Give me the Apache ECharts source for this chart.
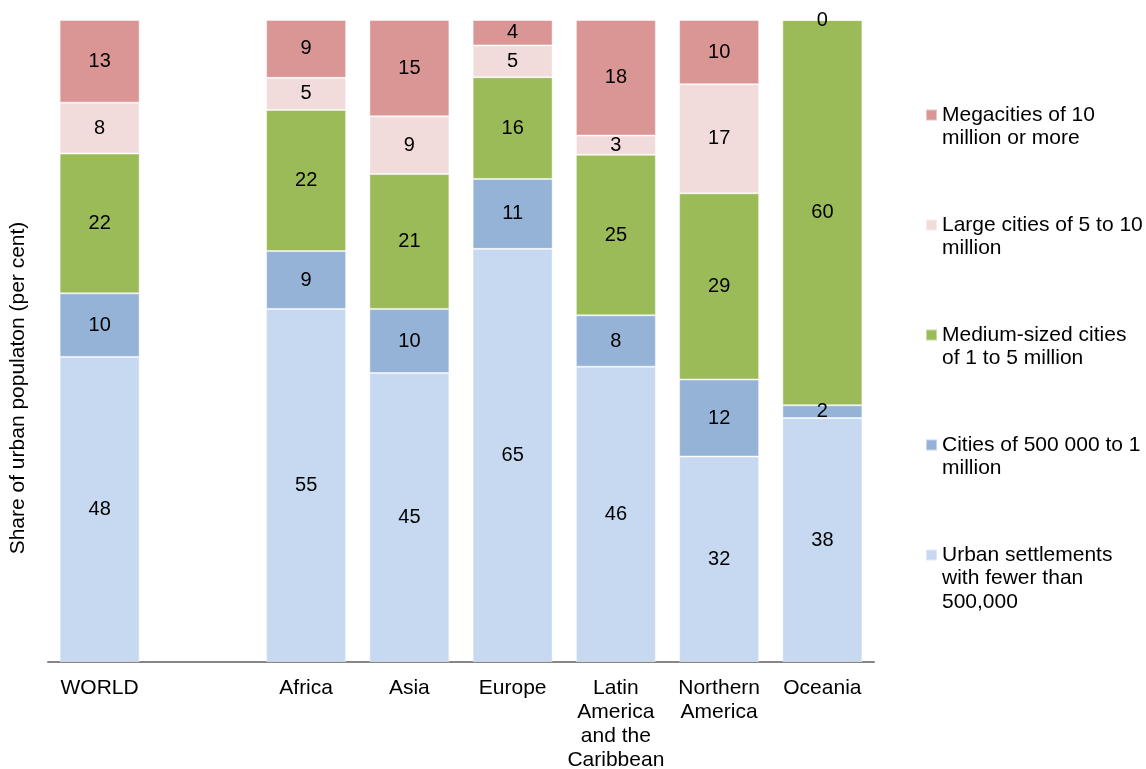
<!DOCTYPE html>
<html>
<head>
<meta charset="utf-8">
<script src="https://cdn.jsdelivr.net/npm/echarts@6/dist/echarts.min.js"></script>
<style>
  html, body { margin: 0; padding: 0; background: #fff; }
  #chart { width: 1146px; height: 769px; }
</style>
</head>
<body>
<div id="chart"></div>
<script>
// Regions (an empty slot separates WORLD from the regions)
const categories = ['WORLD', '', 'Africa', 'Asia', 'Europe',
  'Latin\nAmerica\nand the\nCaribbean', 'Northern\nAmerica', 'Oceania'];

// Share of urban population by city size class (per cent, rounded)
const megacities = [13, '-', 9, 15, 4, 18, 10, 0];
const largeCities = [8, '-', 5, 9, 5, 3, 17, 0];
const mediumCities = [22, '-', 22, 21, 16, 25, 29, 60];
const citiesHalfMillion = [10, '-', 9, 10, 11, 8, 12, 2];
const smallSettlements = [48, '-', 55, 45, 65, 46, 32, 38];

const seriesNames = [
  'Urban settlements with fewer than 500,000',
  'Cities of 500 000 to 1 million',
  'Medium-sized cities of 1 to 5 million',
  'Large cities of 5 to 10 million',
  'Megacities of 10 million or more'
];
const legendLines = {
  'Megacities of 10 million or more': ['Megacities of 10', 'million or more'],
  'Large cities of 5 to 10 million': ['Large cities of 5 to 10', 'million'],
  'Medium-sized cities of 1 to 5 million': ['Medium-sized cities', 'of 1 to 5 million'],
  'Cities of 500 000 to 1 million': ['Cities of 500 000 to 1', 'million'],
  'Urban settlements with fewer than 500,000': ['Urban settlements', 'with fewer than', '500,000']
};
const colors = ['#C6D9F0', '#95B3D7', '#9BBB59', '#F2DCDB', '#D99694'];
const values = [smallSettlements, citiesHalfMillion, mediumCities, largeCities, megacities];

const FONT = "'Liberation Sans', Arial, sans-serif";

// 100% stacked: each column is scaled so its classes fill the full height
const totals = categories.map((c, i) =>
  values.reduce((s, arr) => s + (typeof arr[i] === 'number' ? arr[i] : 0), 0));

const series = values.map((arr, k) => ({
  name: seriesNames[k],
  type: 'bar',
  stack: 'share',
  barWidth: 80,
  itemStyle: { color: colors[k], borderColor: 'rgba(255,255,255,0.45)', borderWidth: 1 },
  label: {
    show: true,
    position: 'inside',
    color: '#000',
    fontFamily: FONT,
    fontSize: 20,
    formatter: p => String(arr[p.dataIndex])
  },
  data: arr.map((v, i) => {
    if (typeof v !== 'number') return '-';
    const item = { value: v / totals[i] * 100 };
    // only the top class keeps a label when its share is zero
    if (v === 0 && k !== values.length - 1) item.label = { show: false };
    return item;
  })
}));

// one legend block per class; blank lines above the text keep the
// swatch level with the first line of a wrapped entry
const LH = 23.5;
const legendFirstLine = [115, 225, 335, 445, 555];
const legendOrder = seriesNames.slice().reverse();
const legends = legendOrder.map((name, j) => {
  const n = legendLines[name].length;
  return {
    orient: 'vertical',
    left: 925,
    top: legendFirstLine[j] - (2 * n - 1) * LH / 2,
    padding: 0,
    itemWidth: 11,
    itemHeight: 11,
    icon: 'rect',
    selectedMode: false,
    data: [name],
    formatter: nm => '\n'.repeat(n - 1) + legendLines[nm].join('\n'),
    textStyle: { fontFamily: FONT, fontSize: 21, lineHeight: LH, color: '#000' }
  };
});

const chart = echarts.init(document.getElementById('chart'), null, { renderer: 'canvas' });
chart.setOption({
  backgroundColor: '#fff',
  animation: false,
  color: colors,
  grid: { left: 48, right: 272, top: 20, bottom: 107, outerBoundsMode: 'none', containLabel: false },
  legend: legends,
  xAxis: {
    type: 'category',
    data: categories,
    axisLine: { lineStyle: { color: '#868686', width: 2 } },
    axisTick: { show: false },
    axisLabel: {
      interval: 0,
      color: '#000',
      fontFamily: FONT,
      fontSize: 21,
      lineHeight: 24,
      margin: 14
    }
  },
  yAxis: {
    type: 'value',
    min: 0,
    max: 100,
    axisLine: { show: false },
    axisTick: { show: false },
    axisLabel: { show: false },
    splitLine: { show: false },
    name: 'Share of urban populaton (per cent)',
    nameLocation: 'middle',
    nameGap: 19,
    nameTextStyle: {
      fontFamily: FONT,
      fontSize: 21,
      color: '#000',
      padding: [0, 94, 0, 0]
    }
  },
  series: series
});
</script>
</body>
</html>
